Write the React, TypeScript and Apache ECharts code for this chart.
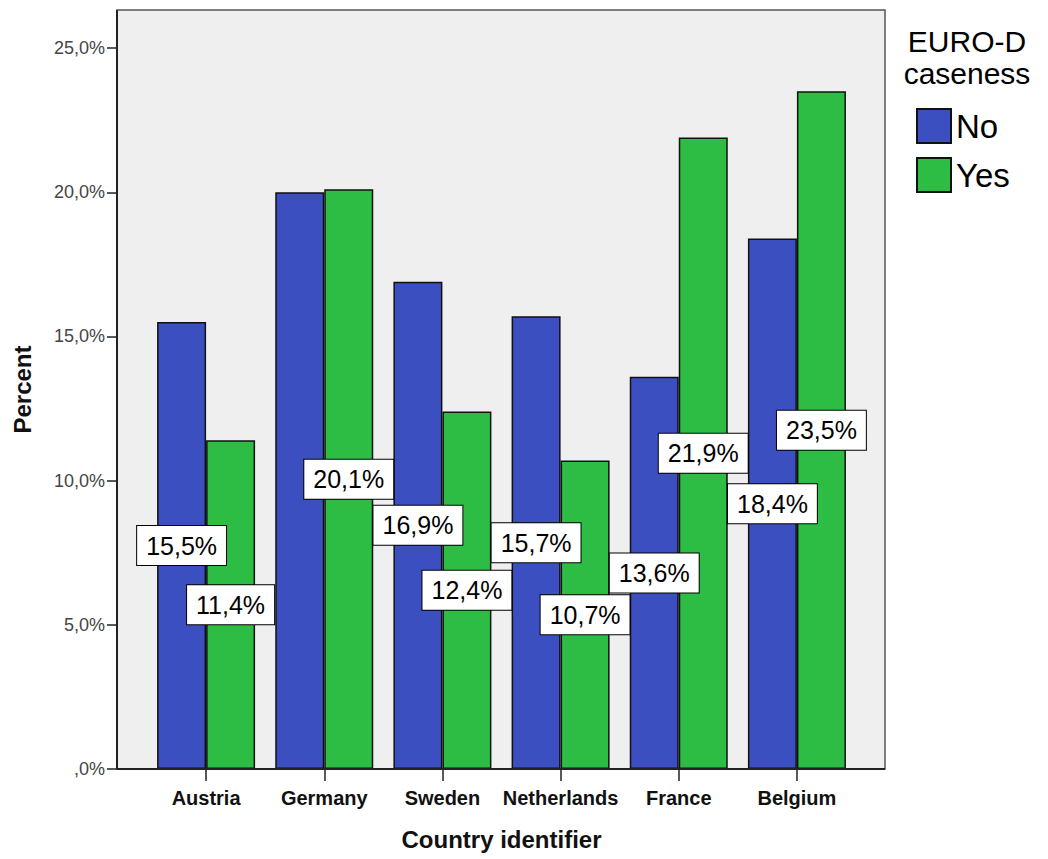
import React, { useEffect, useRef } from "react";
import * as echarts from "echarts";

const countries = ["Austria", "Germany", "Sweden", "Netherlands", "France", "Belgium"];
const noValues = [15.5, 20.0, 16.9, 15.7, 13.6, 18.4];
const yesValues = [11.4, 20.1, 12.4, 10.7, 21.9, 23.5];
// labels that are not displayed in the reference (hidden by overlap)
const noHiddenLabels = ["Germany"];
const yesHiddenLabels: string[] = [];
const yTicks = [0, 5, 10, 15, 20, 25];
const legendTitle = "EURO-D\ncaseness";
const seriesNames = ["No", "Yes"];

const FONT = "Arial, 'Liberation Sans', sans-serif";

const fmtPct = (v: number) => {
  const s = v.toFixed(1).replace(".", ",");
  return (s.startsWith("0,") ? s.slice(1) : s) + "%";
};

export default function App() {
  const ref = useRef<HTMLDivElement>(null);
  useEffect(() => {
    document.body.style.margin = "0";
    if (!ref.current) return;
    const chart = echarts.init(ref.current, null, { renderer: "svg" });

    const labelStyle = {
      show: true,
      position: "inside",
      formatter: (p: any) => fmtPct(p.value),
      backgroundColor: "#ffffff",
      borderColor: "#000000",
      borderWidth: 1,
      padding: [6, 9, 5, 9],
      fontSize: 25,
      color: "#000000",
      fontFamily: FONT,
      lineHeight: 28,
    };

    const mkData = (vals: number[], hidden: string[]) =>
      vals.map((v, i) =>
        hidden.includes(countries[i]) ? { value: v, label: { show: false } } : { value: v }
      );

    const plotLeft = 117;
    const plotTop = 10;
    const plotRight = 885;
    const plotBottom = 769;

    chart.setOption({
      animation: false,
      textStyle: { fontFamily: FONT },
      graphic: [
        {
          type: "rect",
          z: -10,
          silent: true,
          shape: { x: plotLeft, y: plotTop, width: plotRight - plotLeft, height: plotBottom - plotTop },
          style: { fill: "#efefef", stroke: "#555555", lineWidth: 1.5 },
        },
        {
          type: "line",
          z: 10,
          silent: true,
          shape: { x1: plotLeft, y1: plotBottom, x2: plotRight, y2: plotBottom },
          style: { stroke: "#222222", lineWidth: 2 },
        },
        {
          type: "line",
          z: 10,
          silent: true,
          shape: { x1: plotLeft, y1: plotTop, x2: plotLeft, y2: plotBottom },
          style: { stroke: "#222222", lineWidth: 2 },
        },
        {
          type: "text",
          x: 967,
          y: 25,
          style: {
            text: legendTitle,
            fontSize: 30,
            lineHeight: 32,
            fontFamily: FONT,
            fill: "#000000",
            align: "center",
            verticalAlign: "top",
          },
        },
      ],
      legend: {
        orient: "vertical",
        left: 916,
        top: 108,
        padding: 0,
        itemWidth: 34,
        itemHeight: 34,
        itemGap: 13,
        icon: "rect",
        textStyle: { fontSize: 33, lineHeight: 34, color: "#000000", fontFamily: FONT },
        data: seriesNames,
      },
      grid: {
        left: 147,
        right: 1048 - 856,
        top: plotTop,
        bottom: 859 - plotBottom,
        containLabel: false,
      },
      xAxis: {
        type: "category",
        data: countries,
        name: "Country identifier",
        nameLocation: "middle",
        nameGap: 58,
        nameTextStyle: { fontSize: 24, fontWeight: "bold", color: "#111", fontFamily: FONT },
        axisLine: { show: false },
        axisTick: { show: true, alignWithLabel: true, length: 12, lineStyle: { color: "#222", width: 1.5 } },
        axisLabel: { interval: 0, fontSize: 20, fontWeight: "bold", color: "#111", margin: 19, fontFamily: FONT },
      },
      yAxis: {
        type: "value",
        min: 0,
        max: 26.32,
        interval: 5,
        offset: 30,
        name: "Percent",
        nameLocation: "middle",
        nameGap: 83,
        nameTextStyle: { fontSize: 24, fontWeight: "bold", color: "#111", fontFamily: FONT },
        axisLine: { show: false },
        axisTick: { show: true, length: 10, lineStyle: { color: "#222", width: 1.5 } },
        splitLine: { show: false },
        axisLabel: {
          showMaxLabel: false,
          fontSize: 18,
          color: "#444",
          margin: 12,
          fontFamily: FONT,
          formatter: (v: number) => (yTicks.includes(v) ? fmtPct(v) : ""),
        },
      },
      series: [
        {
          name: seriesNames[0],
          type: "bar",
          barWidth: 49,
          barGap: "0%",
          itemStyle: { color: "#3b4fc0", borderColor: "#111", borderWidth: 1.5 },
          label: labelStyle,
          data: mkData(noValues, noHiddenLabels),
        },
        {
          name: seriesNames[1],
          type: "bar",
          barWidth: 49,
          barGap: "0%",
          itemStyle: { color: "#2dbd44", borderColor: "#111", borderWidth: 1.5 },
          label: labelStyle,
          data: mkData(yesValues, yesHiddenLabels),
        },
      ],
    });
    return () => chart.dispose();
  }, []);
  return <div ref={ref} style={{ width: 1048, height: 859 }} />;
}
